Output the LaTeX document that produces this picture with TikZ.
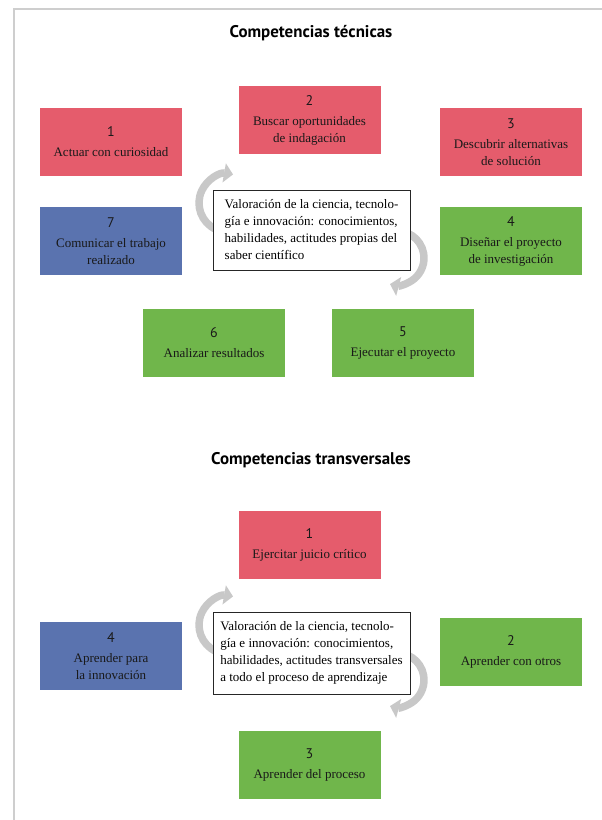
\documentclass[tikz,border=0pt]{standalone}
\usepackage{fontspec}
\setmainfont{Liberation Serif}
\newfontfamily\sansnum{PT Sans}
\usetikzlibrary{arrows.meta}
\definecolor{rojo}{RGB}{229,92,108}
\definecolor{azul}{RGB}{90,115,175}
\definecolor{verde}{RGB}{112,182,75}
\definecolor{gris}{RGB}{200,200,200}
\definecolor{marco}{RGB}{206,206,206}
\newcommand{\numero}[1]{{\sansnum\fontsize{14}{17}\selectfont #1}\\[3pt]}
\tikzset{
  caja/.style={minimum width=142pt, minimum height=68pt, inner sep=0pt,
    align=center, text=black!90, font=\fontsize{13}{17}\selectfont},
  centro/.style={draw=black!85, line width=0.8pt, fill=white, minimum width=197pt,
    minimum height=80pt, inner sep=0pt, align=left,
    font=\fontsize{13}{17}\selectfont},
  giro/.style={draw=gris, line width=7.5pt, -{Triangle[width=19pt,length=9pt]}},
  titulo/.style={font=\sansnum\bfseries\fontsize{16.9}{20}\selectfont}
}
\begin{document}
\begin{tikzpicture}[x=1pt,y=1pt]
\useasboundingbox (0,0) rectangle (602,-820);
\draw[marco, line width=2pt] (14,-820) -- (14,-9) -- (602,-9);

\node[titulo] (tit1) at (311,-33) {Competencias técnicas};
\node[caja, fill=rojo] (t1) at (111,-142) {\numero{1}Actuar con curiosidad};
\node[caja, fill=rojo] (t2) at (309.5,-120) {\numero{2}Buscar oportunidades\\de indagación};
\node[caja, fill=rojo] (t3) at (511,-142) {\numero{3}Descubrir alternativas\\de solución};
\node[caja, fill=azul] (t7) at (111,-241) {\numero{7}Comunicar el trabajo\\realizado};
\node[caja, fill=verde] (t4) at (511,-241) {\numero{4}Diseñar el proyecto\\de investigación};
\node[caja, fill=verde] (t6) at (214,-343) {\numero{6}Analizar resultados};
\node[caja, fill=verde] (t5) at (403,-343) {\numero{5}Ejecutar el proyecto};
\coordinate (ga1) at ([shift={(245:29)}]228,-203);
\coordinate (gb1) at ([shift={(100:27)}]397,-258);
\draw[giro] (ga1) arc[start angle=245, end angle=80, radius=29];
\draw[giro] (gb1) arc[start angle=100, end angle=-105, radius=27];
\node[centro] (c1) at (311.5,-230) {Valoración de la ciencia, tecnolo-\\gía e innovación: conocimientos,\\habilidades, actitudes propias del\\saber científico};

\node[titulo] (tit2) at (311,-460) {Competencias transversales};
\node[caja, fill=rojo] (s1) at (309.5,-545) {\numero{1}Ejercitar juicio crítico};
\node[caja, fill=azul] (s4) at (111,-656) {\numero{4}Aprender para\\la innovación};
\node[caja, fill=verde] (s2) at (511,-652) {\numero{2}Aprender con otros};
\node[caja, fill=verde] (s3) at (309.5,-765) {\numero{3}Aprender del proceso};
\coordinate (ga2) at ([shift={(245:29)}]228,-625);
\coordinate (gb2) at ([shift={(100:27)}]397,-680);
\draw[giro] (ga2) arc[start angle=245, end angle=80, radius=29];
\draw[giro] (gb2) arc[start angle=100, end angle=-105, radius=27];
\node[centro, minimum height=82pt] (c2) at (311.5,-653) {Valoración de la ciencia, tecnolo-\\gía e innovación: conocimientos,\\habilidades, actitudes transversales\\a todo el proceso de aprendizaje};
\end{tikzpicture}
\end{document}
